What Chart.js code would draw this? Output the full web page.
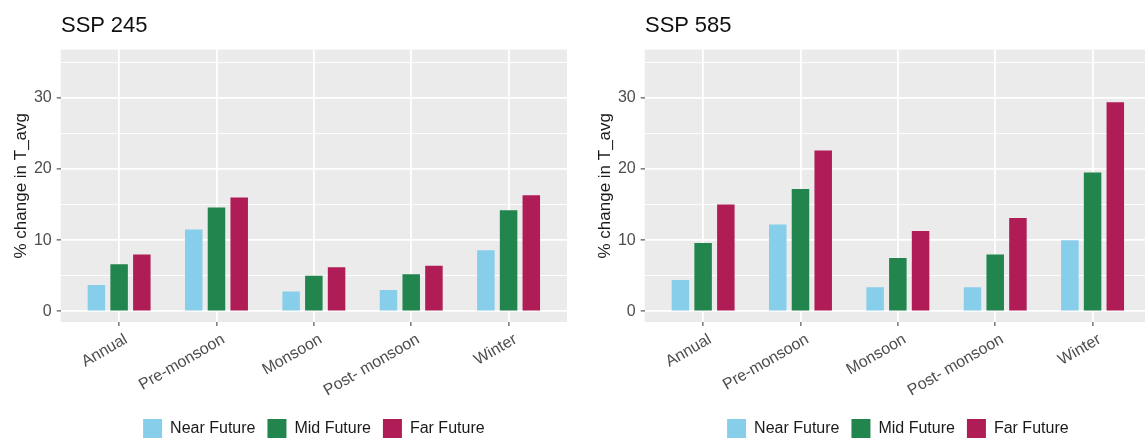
<!DOCTYPE html>
<html>
<head>
<meta charset="utf-8">
<script src="https://cdn.jsdelivr.net/npm/chart.js@4.4.1/dist/chart.umd.min.js"></script>
<style>
  html, body { margin: 0; padding: 0; background: #ffffff; overflow: hidden; }
  body { width: 1145px; height: 439px; position: relative; }
  .panel { position: absolute; top: 0; width: 585px; height: 470px; }
  .panel canvas { position: absolute; left: 0; top: 0; }
  .ptitle { position: absolute; top: 15px; font-family: "Liberation Sans", Arial, sans-serif;
            font-size: 22px; line-height: 20px; color: #111; white-space: nowrap; }
</style>
</head>
<body>
<div class="panel" id="p1" style="left:0px;"><canvas id="c1" width="585" height="470"></canvas></div>
<div class="panel" id="p2" style="left:584px;"><canvas id="c2" width="585" height="470"></canvas></div>
<div class="ptitle" style="left:61px;">SSP 245</div>
<div class="ptitle" style="left:645px;">SSP 585</div>
<script>
// Seasons on the x axis
const categories = ['Annual', 'Pre-monsoon', 'Monsoon', 'Post- monsoon', 'Winter'];
const seriesNames = ['Near Future', 'Mid Future', 'Far Future'];
const seriesColors = ['#87CEEB', '#21854D', '#B01C55'];

// % change in T_avg, SSP 245
const ssp245Near = [3.7, 11.5, 2.8, 3.0, 8.6];
const ssp245Mid  = [6.6, 14.6, 5.0, 5.2, 14.2];
const ssp245Far  = [8.0, 16.0, 6.2, 6.4, 16.3];

// % change in T_avg, SSP 585
const ssp585Near = [4.4, 12.2, 3.4, 3.4, 10.0];
const ssp585Mid  = [9.6, 17.2, 7.5, 8.0, 19.5];
const ssp585Far  = [15.0, 22.6, 11.3, 13.1, 29.4];

// y axis: gridlines every 5, labels every 10
const yGridValues = [0, 5, 10, 15, 20, 25, 30, 35];
const yLabelValues = [0, 10, 20, 30];

const FONT = '"Liberation Sans", Arial, sans-serif';

// grey panel background behind the grid
const panelBackground = {
  id: 'panelBackground',
  beforeDraw(chart) {
    const a = chart.chartArea, ctx = chart.ctx;
    ctx.save();
    ctx.fillStyle = '#EBEBEB';
    ctx.fillRect(a.left, a.top, a.right - a.left, a.bottom - a.top);
    ctx.restore();
  }
};

function makeChart(canvasId, seriesList) {
  const datasets = seriesList.map((vals, i) => ({
    label: seriesNames[i],
    data: vals.map((v, k) => ({ x: k + 1, y: v })),
    backgroundColor: seriesColors[i],
    borderWidth: 0,
    categoryPercentage: 0.7,
    barPercentage: 0.77
  }));
  return new Chart(document.getElementById(canvasId), {
    type: 'bar',
    data: { datasets },
    plugins: [panelBackground],
    options: {
      responsive: false,
      animation: false,
      layout: { padding: { left: 0, right: 18, top: 49.5, bottom: 22 } },
      plugins: {
        tooltip: { enabled: false },
        legend: {
          position: 'bottom',
          fullSize: false,
          labels: {
            boxWidth: 19, boxHeight: 19, padding: 12,
            color: '#1a1a1a',
            font: { family: FONT, size: 16 }
          }
        }
      },
      scales: {
        x: {
          type: 'linear',
          min: 0.4, max: 5.6,
          offset: false,
          afterBuildTicks: s => { s.ticks = categories.map((c, k) => ({ value: k + 1 })); },
          afterFit: s => { s.height = 85; },
          border: { display: false },
          grid: {
            offset: false,
            color: '#FFFFFF', lineWidth: 1.8,
            drawTicks: true, tickLength: 4, tickColor: '#333333', tickWidth: 1
          },
          ticks: {
            autoSkip: false, minRotation: 30, maxRotation: 30, padding: 4, labelOffset: 7,
            color: '#4D4D4D', font: { family: FONT, size: 16 },
            callback: v => categories[Math.round(v) - 1] || ''
          }
        },
        y: {
          min: -1.5, max: 36.8,
          afterBuildTicks: s => { s.ticks = yGridValues.map(v => ({ value: v })); },
          afterFit: s => { s.width = 60.7; },
          border: { display: false },
          grid: {
            color: '#FFFFFF',
            lineWidth: c => (yLabelValues.includes(c.tick.value) ? 1.8 : 0.9),
            drawTicks: true, tickLength: 4, tickWidth: 1,
            tickColor: c => (yLabelValues.includes(c.tick.value) ? '#333333' : 'rgba(0,0,0,0)')
          },
          ticks: {
            padding: 5, color: '#4D4D4D', font: { family: FONT, size: 16 },
            callback: v => (yLabelValues.includes(v) ? String(v) : '')
          },
          title: {
            display: true, text: '% change in T_avg', color: '#1a1a1a',
            font: { family: FONT, size: 17 }, padding: { top: 11, bottom: 0 }
          }
        }
      }
    }
  });
}

makeChart('c1', [ssp245Near, ssp245Mid, ssp245Far]);
makeChart('c2', [ssp585Near, ssp585Mid, ssp585Far]);
</script>
</body>
</html>
